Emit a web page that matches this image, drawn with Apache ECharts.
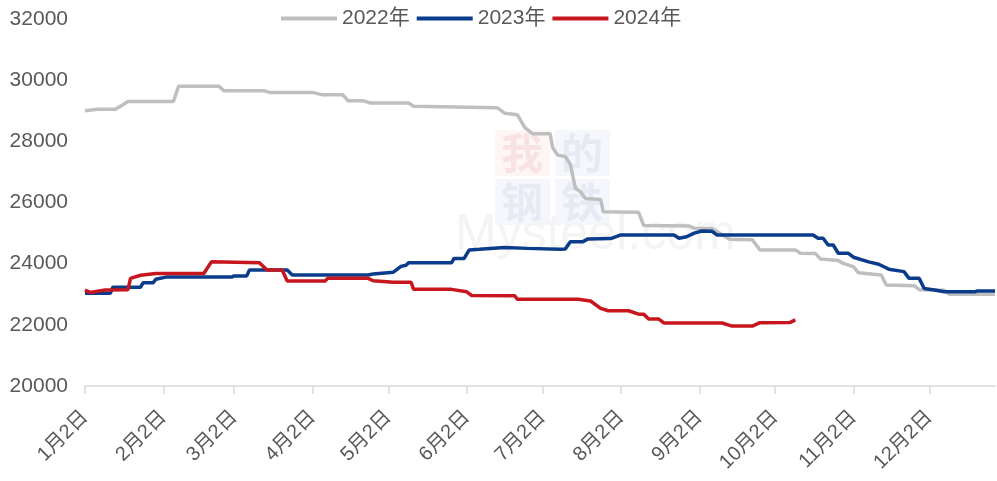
<!DOCTYPE html>
<html>
<head>
<meta charset="utf-8">
<script src="https://cdn.jsdelivr.net/npm/echarts@6/dist/echarts.min.js"></script>
<style>
html,body{margin:0;padding:0;background:#fff;}
#chart{width:997px;height:481px;}
</style>
</head>
<body>
<div id="chart"></div>
<script>
// ---- data ----
const seriesNames = ['2022年', '2023年', '2024年'];
const yTicks = [20000, 22000, 24000, 26000, 28000, 30000, 32000];
const monthTickLabels = ['1月2日','2月2日','3月2日','4月2日','5月2日','6月2日','7月2日','8月2日','9月2日','10月2日','11月2日','12月2日'];

const dates2022 = ['1-2','1-7','1-14','1-17','1-19','2-6','2-8','2-24','2-26','3-14','3-16','4-2','4-6','4-14','4-16','4-22','4-25','5-10','5-12','6-14','6-17','6-22','6-25','6-28','7-5','7-6','7-8','7-11','7-13','7-15','7-17','7-19','7-25','7-26','8-9','8-11','8-29','8-31','9-7','9-14','9-23','9-26','10-10','10-12','10-18','10-20','10-27','10-29','11-2','11-4','11-13','11-15','11-26','11-28','12-8','12-10','12-28'];
const values2022 = [29000,29050,29050,29200,29300,29300,29800,29800,29650,29650,29600,29600,29520,29520,29330,29330,29250,29250,29150,29100,28920,28870,28450,28250,28250,27800,27550,27500,27250,26470,26350,26130,26100,25700,25680,25250,25230,25160,25150,24800,24780,24450,24450,24340,24330,24150,24100,24010,23900,23700,23630,23300,23280,23150,23130,23000,23000];

const dates2023 = ['1-2','1-12','1-13','1-24','1-25','1-29','1-30','2-3','3-1','3-2','3-7','3-8','3-23','3-25','4-24','4-26','5-4','5-7','5-9','5-10','5-27','5-28','6-1','6-3','6-7','6-17','6-26','7-9','7-11','7-13','7-18','7-20','7-29','8-2','8-23','8-25','8-28','8-31','9-3','9-7','9-9','10-17','10-19','10-21','10-23','10-25','10-27','10-31','11-2','11-8','11-12','11-16','11-22','11-24','11-28','11-30','12-4','12-8','12-20','12-21','12-28'];
const values2023 = [23030,23030,23230,23230,23380,23380,23490,23560,23560,23600,23600,23790,23790,23630,23630,23660,23720,23910,23950,24030,24030,24170,24170,24450,24470,24530,24500,24470,24480,24720,24720,24810,24820,24940,24940,24830,24880,25000,25070,25060,24940,24940,24830,24830,24610,24610,24340,24340,24210,24060,23980,23820,23740,23520,23520,23190,23140,23080,23080,23110,23110];

const dates2024 = ['1-2','1-4','1-7','1-10','1-19','1-20','1-24','1-30','2-18','2-21','3-12','3-15','3-21','3-23','4-7','4-8','4-24','4-26','5-4','5-11','5-12','5-27','6-2','6-4','6-21','6-22','7-16','7-21','7-25','7-28','8-5','8-9','8-11','8-13','8-17','8-19','9-11','9-15','9-23','9-26','10-8','10-10'];
const values2024 = [23140,23060,23100,23140,23150,23520,23620,23680,23680,24060,24030,23790,23790,23430,23430,23520,23520,23440,23390,23390,23160,23160,23080,22960,22950,22840,22840,22780,22540,22460,22460,22350,22350,22190,22190,22060,22060,21960,21960,22070,22080,22160];

// ---- daily category axis: Jan 2 .. Dec 28 ----
const categories = [];
for (let d = 0; d <= 360; d++) {
  const dt = new Date(2023, 0, 2 + d, 12);
  categories.push((dt.getMonth() + 1) + '月' + dt.getDate() + '日');
}
function toLabel(md) {
  const p = md.split('-');
  return p[0] + '月' + p[1] + '日';
}
function pairs(dates, vals) {
  return dates.map((d, i) => [toLabel(d), vals[i]]);
}
const isMonthTick = (idx, val) => monthTickLabels.indexOf(val) >= 0;

const colors = ['#BFBFBF', '#0B3C8C', '#C8161E'];
const font = 'Liberation Sans, Arial, Noto Sans CJK SC, sans-serif';

const chart = echarts.init(document.getElementById('chart'), null, {renderer: 'canvas'});
chart.setOption({
  animation: false,
  backgroundColor: '#ffffff',
  color: colors,
  textStyle: {fontFamily: font},
  grid: {left: 85, right: 2, top: 19, bottom: 95, containLabel: false},
  legend: {
    top: 3,
    left: 276,
    icon: 'rect',
    itemWidth: 56,
    itemHeight: 4,
    itemGap: 7,
    data: seriesNames,
    textStyle: {fontSize: 21, color: '#595959', fontFamily: font}
  },
  graphic: [{
    type: 'group',
    left: 455,
    top: 130,
    z: -10,
    silent: true,
    children: [
      {type: 'rect', shape: {x: 0, y: 0, width: 55, height: 46}, style: {fill: '#FEF5F5'}},
      {type: 'rect', shape: {x: 60, y: 0, width: 55, height: 46}, style: {fill: '#F6F7FC'}},
      {type: 'rect', shape: {x: 0, y: 49, width: 55, height: 46}, style: {fill: '#F6F7FC'}},
      {type: 'rect', shape: {x: 60, y: 49, width: 55, height: 46}, style: {fill: '#F6F7FC'}},
      {type: 'text', x: 6, y: 2, style: {text: '我', font: 'bold 42px Noto Sans CJK SC', fill: '#F9E2E2'}},
      {type: 'text', x: 66, y: 2, style: {text: '的', font: 'bold 42px Noto Sans CJK SC', fill: '#E6EAF3'}},
      {type: 'text', x: 6, y: 51, style: {text: '钢', font: 'bold 42px Noto Sans CJK SC', fill: '#E6EAF3'}},
      {type: 'text', x: 66, y: 51, style: {text: '铁', font: 'bold 42px Noto Sans CJK SC', fill: '#E6EAF3'}},
      {type: 'text', x: -40, y: 80, style: {text: 'Mysteel.com', font: '50px Liberation Sans', fill: '#F4F4F4'}}
    ]
  }],
  xAxis: {
    type: 'category',
    boundaryGap: false,
    data: categories,
    axisLine: {show: true, lineStyle: {color: '#D9D9D9', width: 1.5}},
    axisTick: {show: true, interval: isMonthTick, length: 8, lineStyle: {color: '#D9D9D9', width: 1.5}},
    axisLabel: {
      interval: isMonthTick,
      rotate: 45,
      fontSize: 20,
      color: '#595959',
      margin: 28,
      fontFamily: font
    },
    splitLine: {show: false}
  },
  yAxis: {
    type: 'value',
    min: 20000,
    max: 32000,
    interval: 2000,
    axisLine: {show: false},
    axisTick: {show: false},
    splitLine: {show: false},
    axisLabel: {fontSize: 21, color: '#595959', margin: 17, fontFamily: font, formatter: v => String(v)}
  },
  series: [
    {name: seriesNames[0], type: 'line', data: pairs(dates2022, values2022), showSymbol: false, symbol: 'none', lineStyle: {width: 3.5, color: colors[0]}, z: 2},
    {name: seriesNames[1], type: 'line', data: pairs(dates2023, values2023), showSymbol: false, symbol: 'none', lineStyle: {width: 3.5, color: colors[1]}, z: 3},
    {name: seriesNames[2], type: 'line', data: pairs(dates2024, values2024), showSymbol: false, symbol: 'none', lineStyle: {width: 3.5, color: colors[2]}, z: 4}
  ]
});
</script>
</body>
</html>
